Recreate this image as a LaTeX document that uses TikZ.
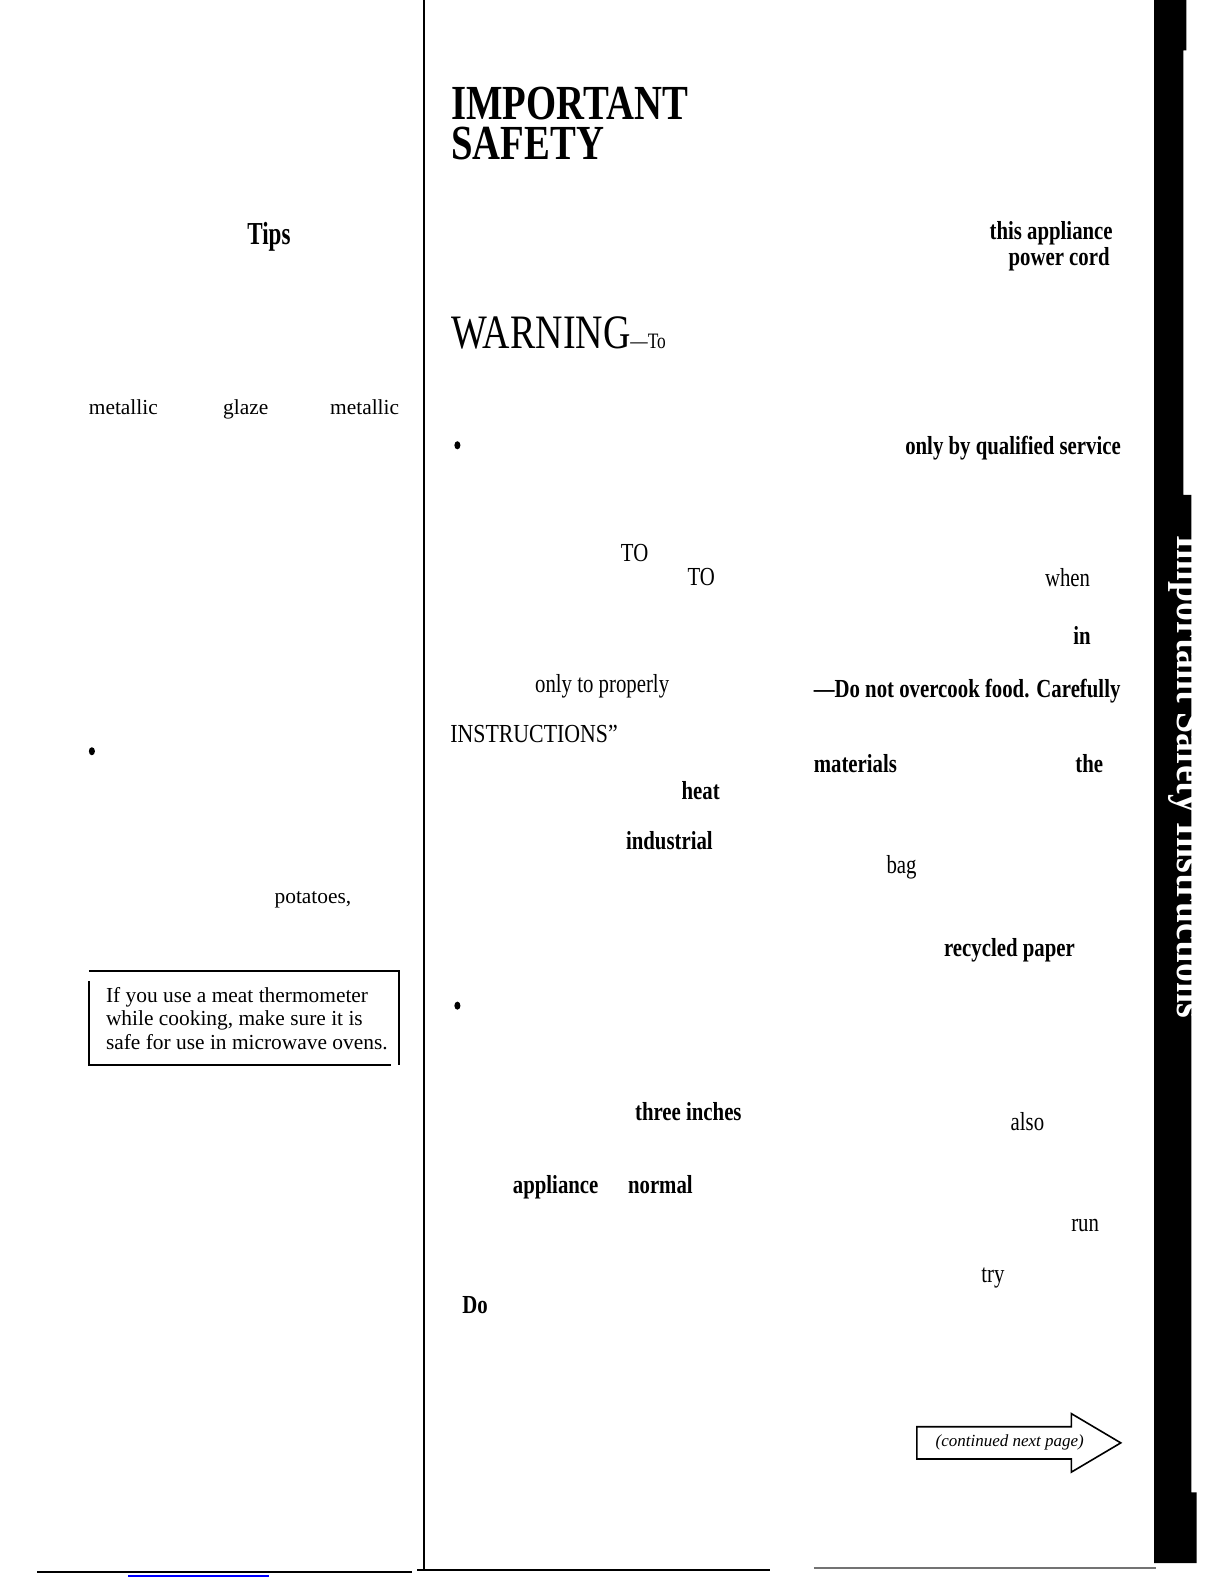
\documentclass[tikz,border=0pt]{standalone}
\usepackage{fontspec}
\setmainfont{Liberation Serif}
\newfontfamily\cond[FakeStretch=0.8]{Liberation Serif}
\newfontfamily\condw[FakeStretch=0.84]{Liberation Serif}
\newfontfamily\headf[FakeStretch=0.79]{Liberation Serif}
\newfontfamily\tipsf[FakeStretch=0.72]{Liberation Serif}
\newfontfamily\tabf[FakeStretch=0.9]{Liberation Serif}
\begin{document}
\begin{tikzpicture}[x=0.5pt,y=-0.5pt,
  every node/.style={inner sep=0pt, outer sep=0pt, anchor=base west},
  lt/.style={font=\fontsize{10.7}{13}\selectfont},
  rt/.style={font=\cond\fontsize{13}{15}\selectfont},
  rb/.style={font=\cond\bfseries\fontsize{13}{15}\selectfont},
  head/.style={font=\headf\bfseries\fontsize{24.5}{20}\selectfont, align=left, anchor=north west},
  rule/.style={line width=1pt},
  bulletdot/.style={fill=black}]
\useasboundingbox (0,0) rectangle (1224,1584);
\fill[white] (0,0) rectangle (1224,1584);
\begin{scope}[scale=1.0097]
% right black tab bar
\fill[black] (1143,0) -- (1175,0) -- (1175,50) -- (1172,50) -- (1172,490) -- (1180,490)
  -- (1180,1478) -- (1185,1478) -- (1185,1548) -- (1143,1548) -- cycle;
\node[rotate=-90, text=white, font=\tabf\bfseries\fontsize{21}{23}\selectfont] (tab) at (1166,530) {Important Safety Instructions};

% column rule
\draw[line width=1.3pt] (420,0) -- (420,1555);

% bottom rules
\draw[rule] (37,1557) -- (408,1557);
\draw[line width=0.8pt, blue] (127,1561) -- (266,1561);
\draw[rule] (413,1555) -- (763,1555);
\draw[line width=0.9pt, black!55] (806,1553) -- (1145,1553);

% left column
\node[font=\tipsf\bfseries\fontsize{16}{18}\selectfont] (tips) at (245,242) {Tips};
\node[lt] (met1) at (88,411) {metallic};
\node[lt] (glaze) at (221,411) {glaze};
\node[lt] (met2) at (327,411) {metallic};
\fill[bulletdot] (91,744) ellipse [x radius=3, y radius=4];
\node[lt] (pot) at (272,895) {potatoes,};

% thermometer box
\draw[line width=0.9pt] (88,962) -- (396,962);
\draw[line width=0.9pt] (395,962) -- (395,1055);
\draw[line width=0.9pt] (88,972) -- (88,1055) -- (387,1055);
\node[lt] (box1) at (105,993) {If you use a meat thermometer};
\node[lt] (box2) at (105,1016) {while cooking, make sure it is};
\node[lt] (box3) at (105,1039) {safe for use in microwave ovens.};

% right column heading
\node[head] (imp) at (447,86.5) {IMPORTANT\\SAFETY};
\node[font=\headf\fontsize{24}{26}\selectfont] (warn) at (447,345) {WARNING\fontsize{11}{13}\selectfont—To};

% right column words
\node[rb, anchor=base east] (thisapp) at (1102,237) {this appliance};
\node[rb, anchor=base east] (pcord) at (1099,263) {power cord};
\fill[bulletdot] (453,441) ellipse [x radius=3, y radius=4];
\node[rb, anchor=base east] (qual) at (1110,450) {only by qualified service};
\node[rt] (to1) at (615,556) {TO};
\node[rt] (to2) at (681,580) {TO};
\node[rt] (when) at (1035,581) {when};
\node[rb] (in) at (1063,638) {in};
\node[rt] (proper) at (530,686) {only to properly};
\node[rb] (overc) at (806,691) {—Do not overcook food. Carefully};
\node[font=\condw\fontsize{13}{15}\selectfont] (instr) at (446,735) {INSTRUCTIONS”};
\node[rb] (mater) at (806,765) {materials};
\node[rb] (the) at (1065,765) {the};
\node[rb] (heat) at (675,792) {heat};
\node[rb] (indus) at (620,841) {industrial};
\node[rt] (bag) at (878,865) {bag};
\node[rb] (recyc) at (935,947) {recycled paper};
\fill[bulletdot] (453,996) ellipse [x radius=3, y radius=4];
\node[rb] (three) at (629,1110) {three inches};
\node[rt] (also) at (1001,1120) {also};
\node[rb] (appl) at (508,1182) {appliance};
\node[rb] (normal) at (622,1182) {normal};
\node[rt] (run) at (1061,1220) {run};
\node[rt] (try) at (972,1270) {try};
\node[rb] (do) at (458,1301) {Do};

% continued arrow
\draw[line width=0.8pt, line join=miter] (908,1413) -- (1061,1413) -- (1061,1400) -- (1110,1429)
  -- (1061,1458) -- (1061,1445) -- (908,1445) -- cycle;
\node[anchor=center, font=\itshape\fontsize{8.5}{10}\selectfont] (cont) at (1000,1429) {(continued next page)};
\end{scope}
\end{tikzpicture}
\end{document}
